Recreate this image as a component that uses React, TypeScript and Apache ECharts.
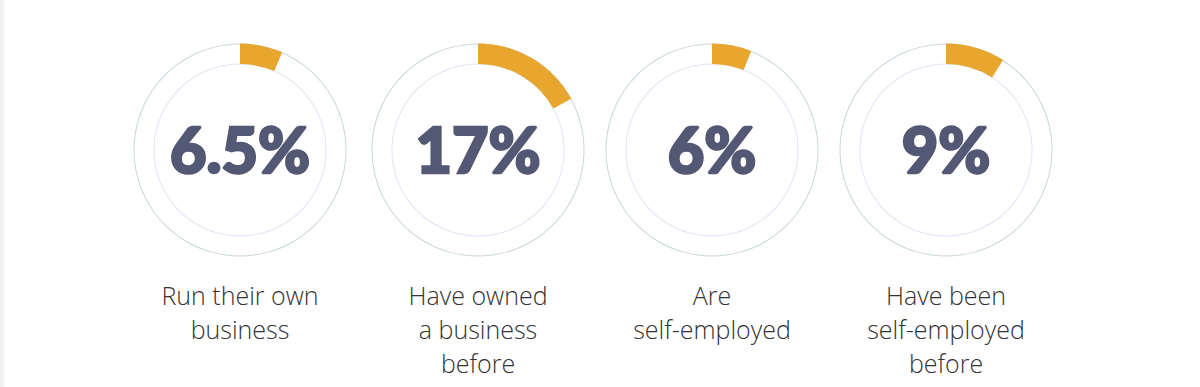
import React, { useEffect, useRef } from "react";
import * as echarts from "echarts";

const values = [6.5, 17, 6, 9];
const valueLabels = ["6.5%", "17%", "6%", "9%"];
const captions = [
  "Run their own\nbusiness",
  "Have owned\na business\nbefore",
  "Are\nself-employed",
  "Have been\nself-employed\nbefore",
];
const centersX = [240, 478, 712, 946];

const CY = 150;
const R_OUT = 106.5;
const R_IN = 86;
const ORANGE = "#e8a62e";
const NUM_COLOR = "#535874";

export default function App() {
  const ref = useRef<HTMLDivElement>(null);
  useEffect(() => {
    document.body.style.margin = "0";
    const chart = echarts.init(ref.current!, null, { renderer: "svg" });
    const series: any[] = [];
    const graphic: any[] = [
      { type: "rect", shape: { x: 0, y: 0, width: 4, height: 387 }, style: { fill: "#f1f1f1" }, silent: true },
    ];
    values.forEach((v, i) => {
      const cx = centersX[i];
      series.push({
        type: "pie",
        silent: true,
        center: [cx, CY],
        radius: [R_OUT - 1, R_OUT],
        label: { show: false },
        labelLine: { show: false },
        itemStyle: { color: "#c9d6dc" },
        data: [{ value: 1 }],
      });
      series.push({
        type: "pie",
        silent: true,
        center: [cx, CY],
        radius: [R_IN - 0.5, R_IN + 0.5],
        label: { show: false },
        labelLine: { show: false },
        itemStyle: { color: "#e0e5f5" },
        data: [{ value: 1 }],
      });
      series.push({
        type: "pie",
        silent: true,
        center: [cx, CY],
        radius: [R_IN, R_OUT],
        startAngle: 90,
        clockwise: true,
        label: { show: false },
        labelLine: { show: false },
        data: [
          { value: v, itemStyle: { color: ORANGE } },
          { value: 100 - v, itemStyle: { color: "rgba(0,0,0,0)" } },
        ],
      });
      graphic.push({
        type: "text",
        x: cx,
        y: CY - 2,
        silent: true,
        style: {
          text: valueLabels[i],
          fill: NUM_COLOR,
          stroke: NUM_COLOR,
          lineWidth: 2.5,
          font: "900 63px Lato",
          textAlign: "center",
          textVerticalAlign: "middle",
        },
      });
      graphic.push({
        type: "text",
        x: cx,
        y: 278,
        silent: true,
        style: {
          text: captions[i],
          fill: "#333333",
          font: "300 25px 'Open Sans'",
          lineHeight: 34,
          textAlign: "center",
          textVerticalAlign: "top",
        },
      });
    });
    chart.setOption({
      animation: false,
      backgroundColor: "#ffffff",
      series,
      graphic,
    });
    return () => chart.dispose();
  }, []);
  return <div ref={ref} style={{ width: 1200, height: 387 }} />;
}
